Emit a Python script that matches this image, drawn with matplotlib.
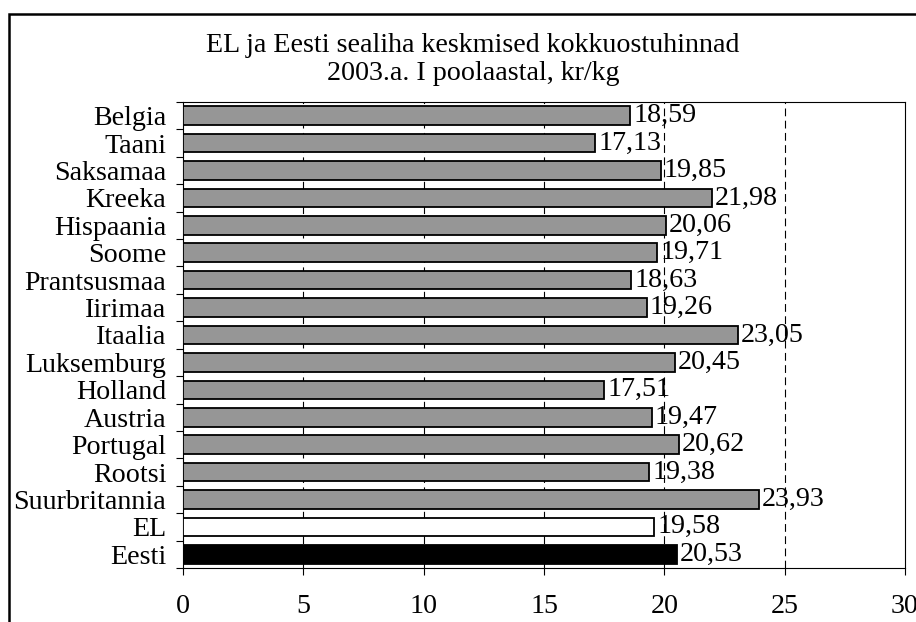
import matplotlib
matplotlib.use('Agg')
import matplotlib.pyplot as plt
import numpy as np
from matplotlib.patches import Rectangle

countries = ['Belgia', 'Taani', 'Saksamaa', 'Kreeka', 'Hispaania', 'Soome',
             'Prantsusmaa', 'Iirimaa', 'Itaalia', 'Luksemburg', 'Holland',
             'Austria', 'Portugal', 'Rootsi', 'Suurbritannia', 'EL', 'Eesti']
prices = [18.59, 17.13, 19.85, 21.98, 20.06, 19.71, 18.63, 19.26, 23.05,
          20.45, 17.51, 19.47, 20.62, 19.38, 23.93, 19.58, 20.53]
colors = ['#969696'] * 15 + ['white', 'black']
xticks = [0, 5, 10, 15, 20, 25, 30]

plt.rcParams['font.family'] = ['Liberation Serif', 'DejaVu Serif']
plt.rcParams['font.size'] = 20.2

fig = plt.figure(figsize=(9.16, 6.22), dpi=100)
ax = fig.add_axes([183 / 916, 1 - 568 / 622, (905 - 183) / 916, (568 - 102) / 622])

y = np.arange(len(countries))
ax.barh(y, prices, height=0.68, color=colors, edgecolor='black', linewidth=1.3, zorder=3)

# value labels with comma as decimal sign
for yi, v in zip(y, prices):
    ax.text(v + 0.12, yi, ('%.2f' % v).replace('.', ','), va='center', ha='left', zorder=4)

ax.set_xlim(0, 30)
ax.set_ylim(len(countries) - 0.5, -0.5)
ax.set_xticks(xticks)
ax.set_xticklabels([str(t) for t in xticks])
ax.set_yticks(y)
ax.set_yticklabels(countries)
ax.set_yticks(np.arange(len(countries) + 1) - 0.5, minor=True)
ax.tick_params(axis='y', which='major', length=0, pad=12)
ax.tick_params(axis='y', which='minor', length=5, width=0.8, direction='out')
ax.tick_params(axis='x', length=5, width=0.8, direction='out', pad=14)

# dashed grid lines
for g in xticks[1:-1]:
    ax.axvline(g, color='black', linewidth=0.8, dashes=(7, 4), zorder=1)

for s in ax.spines.values():
    s.set_linewidth(0.8)

fig.text(473 / 916, 1 - 45 / 622, 'EL ja Eesti sealiha keskmised kokkuostuhinnad', ha='center', va='center')
fig.text(473 / 916, 1 - 74 / 622, '2003.a. I poolaastal, kr/kg', ha='center', va='center')

# outer chart frame (runs past the right and bottom edges)
fig.patches.append(Rectangle((8.5 / 916, -0.1), 1.2, 1.1 - 13.5 / 622, transform=fig.transFigure,
                             fill=False, edgecolor='black', linewidth=1.8, clip_on=False))

fig.savefig('out.png', dpi=100)
